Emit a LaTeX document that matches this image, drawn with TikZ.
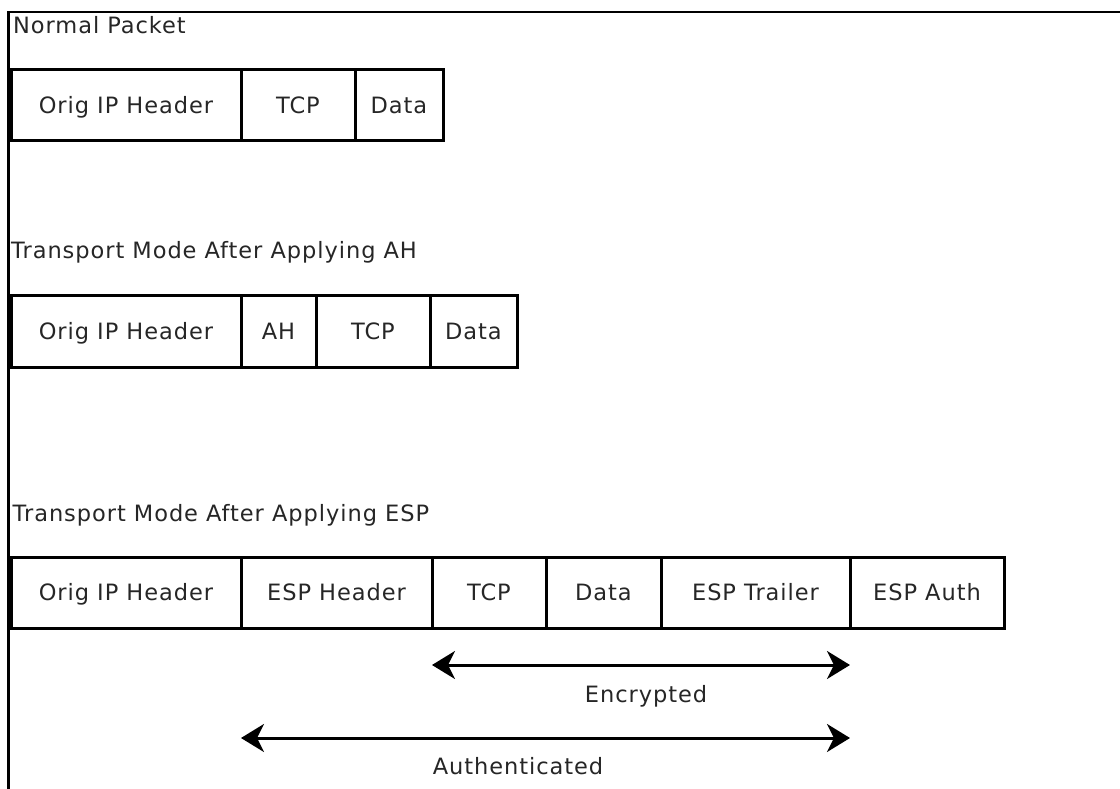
\documentclass[tikz,border=0pt]{standalone}
\usepackage{fontspec}
\setmainfont{DejaVu Sans}[LetterSpace=4.2]
\usetikzlibrary{arrows.meta,calc}
\begin{document}
\begin{tikzpicture}[x=1pt,y=-1pt,
  every node/.style={font=\fontsize{22.5}{27}\selectfont, text=black!85},
  cell/.style={draw=black, line width=3pt, inner sep=0pt, outer sep=0pt, anchor=west, text height=16.4pt, text depth=0pt},
  title/.style={anchor=base west, inner sep=0pt},
  lbl/.style={anchor=base, inner sep=0pt},
  span/.style={line width=3pt, {Stealth[length=23pt,width=28pt,inset=7pt]}-{Stealth[length=23pt,width=28pt,inset=7pt]}},
  frameline/.style={line width=2.8pt}]
\useasboundingbox (0,0) rectangle (1120,789);
% frame
\coordinate (fb) at (8.5,789);
\coordinate (ftl) at (8.5,12);
\coordinate (ftr) at (1120,12);
\draw[frameline] (fb) -- (ftl) -- (ftr);
% Normal packet
\node[title] (t1) at (13,33.3) {Normal Packet};
\node[cell, minimum width=230, minimum height=71] (n1) at (11,105.5) {Orig IP Header};
\node[cell, minimum width=114, minimum height=71] (n2) at (n1.east) {TCP};
\node[cell, minimum width=88, minimum height=71] (n3) at (n2.east) {Data};
% AH
\node[title] (t2) at (11,258.3) {Transport Mode After Applying AH};
\node[cell, minimum width=230, minimum height=72] (a1) at (11,331) {Orig IP Header};
\node[cell, minimum width=75, minimum height=72] (a2) at (a1.east) {AH};
\node[cell, minimum width=114, minimum height=72] (a3) at (a2.east) {TCP};
\node[cell, minimum width=87, minimum height=72] (a4) at (a3.east) {Data};
% ESP
\node[title] (t3) at (12.5,521.7) {Transport Mode After Applying ESP};
\node[cell, minimum width=230, minimum height=71] (e1) at (11,592.5) {Orig IP Header};
\node[cell, minimum width=191, minimum height=71] (e2) at (e1.east) {ESP Header};
\node[cell, minimum width=114, minimum height=71] (e3) at (e2.east) {TCP};
\node[cell, minimum width=115, minimum height=71] (e4) at (e3.east) {Data};
\node[cell, minimum width=189, minimum height=71] (e5) at (e4.east) {ESP Trailer};
\node[cell, minimum width=154, minimum height=71] (e6) at (e5.east) {ESP Auth};
% arrows
\coordinate (encL) at (e3.west |- 0,665);
\coordinate (encR) at (e5.east |- 0,665);
\draw[span] (encL) -- (encR);
\node[lbl] (encT) at (646,702.7) {Encrypted};
\coordinate (autL) at (e2.west |- 0,738);
\coordinate (autR) at (e5.east |- 0,738);
\draw[span] (autL) -- (autR);
\node[lbl] (autT) at (518,774) {Authenticated};
\end{tikzpicture}
\end{document}
